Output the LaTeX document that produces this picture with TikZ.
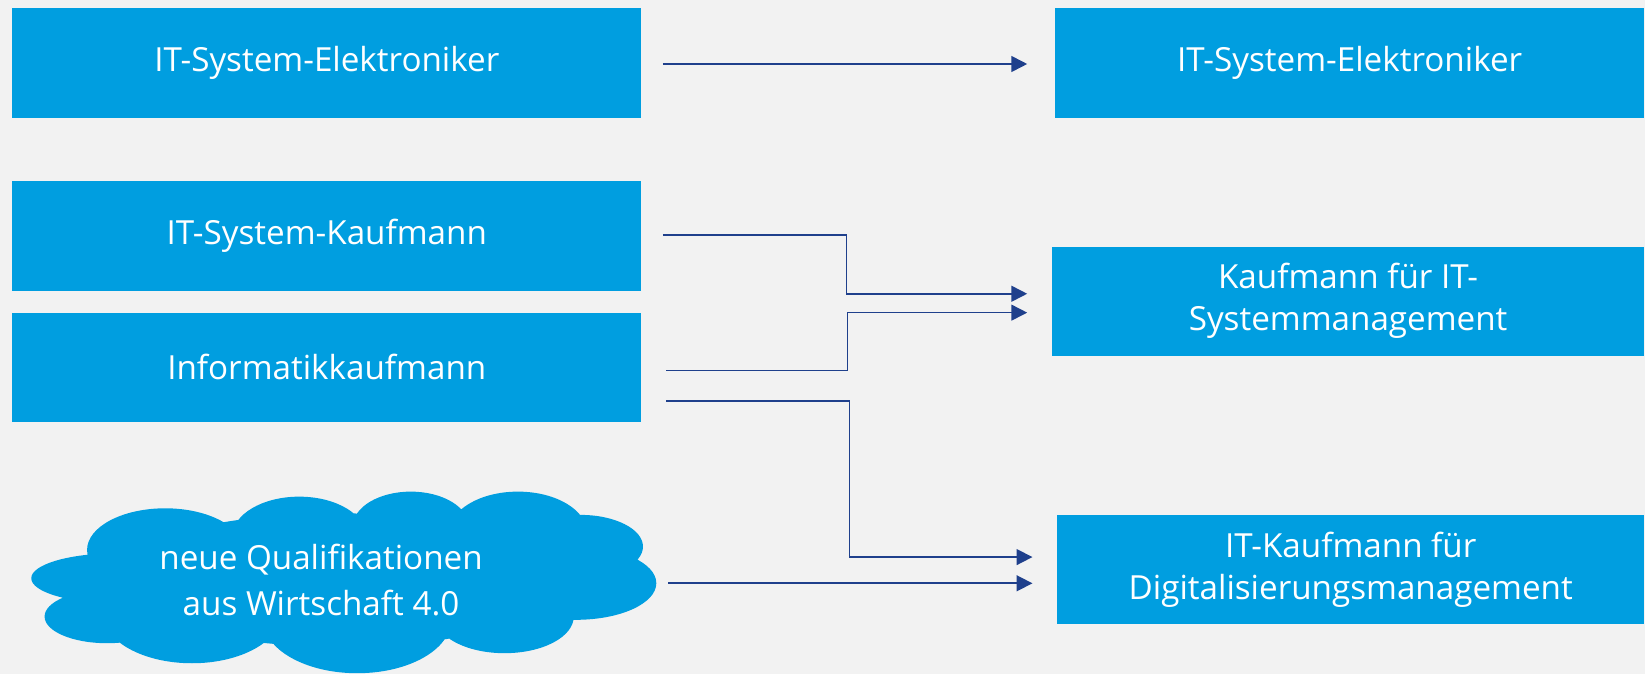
\documentclass[tikz,border=0pt]{standalone}
\usepackage{fontspec}
\setmainfont{Open Sans}
\usetikzlibrary{arrows.meta,calc}
\definecolor{boxblue}{RGB}{0,158,224}
\definecolor{linkblue}{RGB}{31,64,140}
\definecolor{backgray}{RGB}{242,242,242}

\begin{document}
\begin{tikzpicture}[x=0.01cm,y=-0.01cm,
    box/.style={fill=boxblue,text=white,align=center,inner sep=0pt,
        minimum height=1.04cm,font=\fontsize{9}{11.4}\selectfont},
    conn/.style={linkblue,line width=0.45pt,
        -{Triangle[length=0.15cm,width=0.15cm]}}]
    \fill[backgray] (0,0) rectangle (1568,642);
    \useasboundingbox (0,0) rectangle (1568,642);
    %old trainings on the left
    \node[box,minimum width=5.99cm] (elkalt) at (311.5,60) {IT-System-Elektroniker};
    \node[box,minimum width=5.99cm] (kfmalt) at (311.5,225) {IT-System-Kaufmann};
    \node[box,minimum width=5.99cm] (infalt) at (311.5,350) {Informatikkaufmann};
    %the cloud, made of puffs
    \fill[boxblue] (323.5,552.8) ellipse [x radius=221, y radius=63.5]
        (157.5,524.2) ellipse [x radius=74.5, y radius=39.7]
        (285.2,511.5) ellipse [x radius=63.8, y radius=38.1]
        (391.6,502.0) ellipse [x radius=55.3, y radius=33.4]
        (493.7,508.3) ellipse [x radius=66.0, y radius=39.7]
        (553.3,521.0) ellipse [x radius=59.6, y radius=30.2]
        (549.0,555.9) ellipse [x radius=76.6, y radius=34.9]
        (480.9,587.7) ellipse [x radius=66.0, y radius=34.9]
        (340.5,590.9) ellipse [x radius=89.4, y radius=50.8]
        (183.0,584.5) ellipse [x radius=85.1, y radius=47.7]
        (102.1,587.7) ellipse [x radius=59.6, y radius=25.4]
        (110.7,551.2) ellipse [x radius=80.9, y radius=23.8];
    \coordinate (wolke) at (626,556);
    \node[text=white,align=center,inner sep=0pt,
        font=\fontsize{9}{12.5}\selectfont] (neu) at (306,553)
        {neue Qualifikationen\\aus Wirtschaft 4.0};
    %new trainings on the right
    \node[box,minimum width=5.61cm] (elkneu) at (1286.5,60) {IT-System-Elektroniker};
    \node[box,minimum width=5.64cm] (sysneu) at (1285,287) {Kaufmann für IT-\\Systemmanagement};
    \node[box,minimum width=5.59cm] (digneu) at (1287.5,543) {IT-Kaufmann für\\Digitalisierungsmanagement};
    %connectors
    \draw[conn] ($(elkalt.east)+(20,1)$) -- ($(elkneu.west)+(-26,1)$);
    \draw[conn] ($(kfmalt.east)+(20,-1)$) -- ++(175,0)
        |- ($(sysneu.west)+(-23,-7)$);
    \draw[conn] ($(infalt.east)+(23,3)$) -- ++(173,0)
        |- ($(sysneu.west)+(-23,11)$);
    \draw[conn] ($(infalt.east)+(23,32)$) -- ++(175,0)
        |- ($(digneu.west)+(-23,-12)$);
    \draw[conn] ($(wolke)+(11,0)$) -- ($(digneu.west)+(-23,13)$);
\end{tikzpicture}
\end{document}
